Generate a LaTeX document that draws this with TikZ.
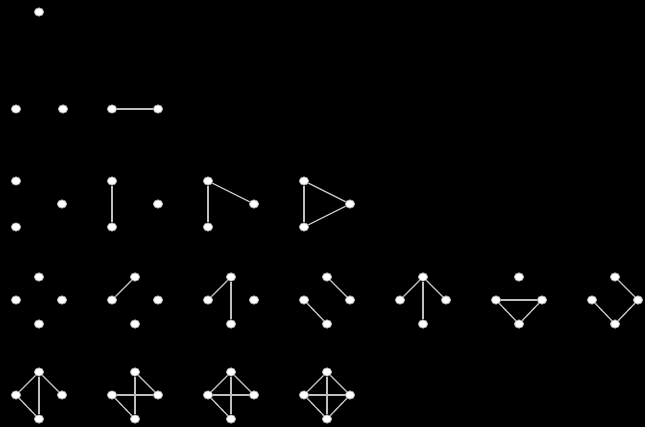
\documentclass[tikz,border=0pt]{standalone}
\usetikzlibrary{shapes.geometric}
\begin{document}
\begin{tikzpicture}[x=0.75pt,y=-0.75pt,
  vtx/.style={ellipse,fill=white,draw=white!65!black,line width=0.6pt,inner sep=0pt,minimum width=7pt,minimum height=6.2pt},
  edg/.style={draw=white!75!black,line width=1pt}]
\fill[black] (0,0) rectangle (645,427);
\useasboundingbox (0,0) rectangle (645,427);
% row 1
\node[vtx] (a1) at (39,12) {};
% row 2
\node[vtx] (b1a) at (16,109) {};
\node[vtx] (b1b) at (63,109) {};
\node[vtx] (b2a) at (112,109) {};
\node[vtx] (b2b) at (158,109) {};
\draw[edg] (b2a) -- (b2b);
% row 3
\foreach \k in {0,1,2,3}{
  \node[vtx] (c\k t) at (16+96*\k,181) {};
  \node[vtx] (c\k b) at (16+96*\k,227) {};
  \node[vtx] (c\k r) at (62+96*\k,204) {};
}
\draw[edg] (c1t) -- (c1b);
\draw[edg] (c2t) -- (c2b);
\draw[edg] (c2t) -- (c2r);
\draw[edg] (c3t) -- (c3b);
\draw[edg] (c3t) -- (c3r);
\draw[edg] (c3b) -- (c3r);
% row 4
\foreach \k in {0,...,6}{
  \node[vtx] (d\k t) at (39+96*\k,277) {};
  \node[vtx] (d\k l) at (16+96*\k,300) {};
  \node[vtx] (d\k r) at (62+96*\k,300) {};
  \node[vtx] (d\k b) at (39+96*\k,324) {};
}
\draw[edg] (d1l) -- (d1t);
\draw[edg] (d2l) -- (d2t);
\draw[edg] (d2t) -- (d2b);
\draw[edg] (d3t) -- (d3r);
\draw[edg] (d3l) -- (d3b);
\draw[edg] (d4t) -- (d4l);
\draw[edg] (d4t) -- (d4r);
\draw[edg] (d4t) -- (d4b);
\draw[edg] (d5l) -- (d5r);
\draw[edg] (d5l) -- (d5b);
\draw[edg] (d5r) -- (d5b);
\draw[edg] (d6t) -- (d6r);
\draw[edg] (d6r) -- (d6b);
\draw[edg] (d6l) -- (d6b);
% row 5
\foreach \k in {0,...,3}{
  \node[vtx] (e\k t) at (39+96*\k,372) {};
  \node[vtx] (e\k l) at (16+96*\k,395) {};
  \node[vtx] (e\k r) at (62+96*\k,395) {};
  \node[vtx] (e\k b) at (39+96*\k,419) {};
}
\draw[edg] (e0t) -- (e0l);
\draw[edg] (e0t) -- (e0r);
\draw[edg] (e0t) -- (e0b);
\draw[edg] (e0l) -- (e0b);
\draw[edg] (e1t) -- (e1b);
\draw[edg] (e1t) -- (e1r);
\draw[edg] (e1l) -- (e1r);
\draw[edg] (e1l) -- (e1b);
\draw[edg] (e2t) -- (e2l);
\draw[edg] (e2t) -- (e2r);
\draw[edg] (e2t) -- (e2b);
\draw[edg] (e2l) -- (e2r);
\draw[edg] (e2l) -- (e2b);
\draw[edg] (e3t) -- (e3l);
\draw[edg] (e3t) -- (e3r);
\draw[edg] (e3t) -- (e3b);
\draw[edg] (e3l) -- (e3r);
\draw[edg] (e3l) -- (e3b);
\draw[edg] (e3r) -- (e3b);
\end{tikzpicture}
\end{document}
